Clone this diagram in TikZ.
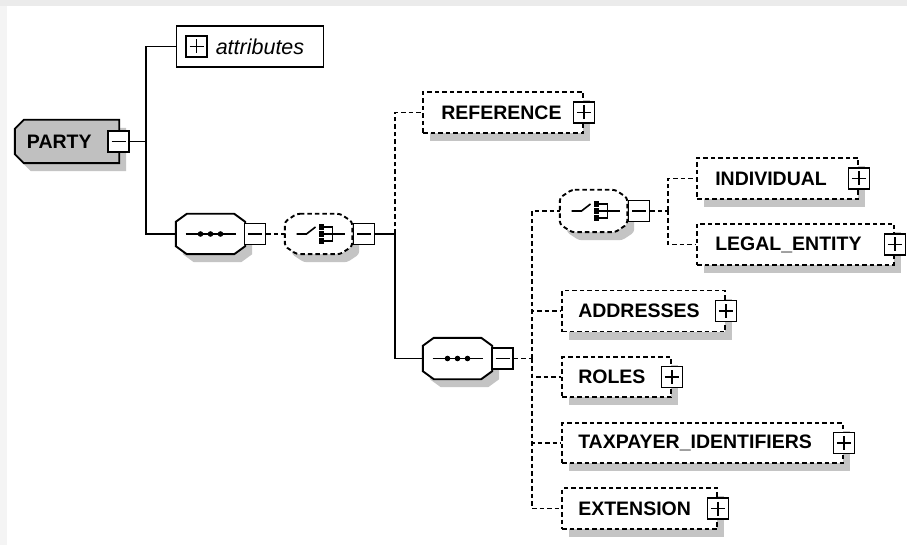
\documentclass[tikz,border=0pt]{standalone}
\usepackage{fontspec}
\setmainfont{Liberation Sans}
\usetikzlibrary{shadows}
\definecolor{shadecol}{RGB}{196,196,196}
\definecolor{topstrip}{RGB}{235,235,235}
\definecolor{leftstrip}{RGB}{244,244,244}
\definecolor{partyfill}{RGB}{192,192,192}
\tikzset{
  lw/.style={line width=1.9pt},
  conn/.style={lw, black},
  dashpat/.style={dash pattern=on 4.5pt off 3pt},
  dconn/.style={conn, dashpat},
  shad/.style={drop shadow={shadow xshift=7pt, shadow yshift=-8pt, fill=shadecol, opacity=1}},
  lab/.style={font=\fontsize{19.5}{21}\selectfont\bfseries, inner sep=0pt, anchor=west, text=black},
  elembox/.style={rectangle, draw, lw, dashpat, fill=white, shad,
     inner sep=0pt, minimum width=#1, minimum height=41pt},
  anchorbox/.style={rectangle, draw=none, inner sep=0pt, minimum width=#1, minimum height=40pt},
  pmbox/.style={rectangle, draw, lw, fill=white, inner sep=0pt, minimum width=21pt, minimum height=21pt},
  minusbox/.style={pmbox, path picture={
     \draw[line width=1.6pt] ([xshift=3.5pt]path picture bounding box.west) -- ([xshift=-3.5pt]path picture bounding box.east);}},
  plusbox/.style={pmbox, path picture={
     \draw[line width=1.6pt] ([xshift=3.5pt]path picture bounding box.west) -- ([xshift=-3.5pt]path picture bounding box.east);
     \draw[line width=1.6pt] ([yshift=-3.5pt]path picture bounding box.north) -- ([yshift=3.5pt]path picture bounding box.south);}},
  seqicon/.pic={
     \draw[line width=1.6pt] (-25,0) -- (25,0);
     \foreach \dx in {-10,0,10} \fill (\dx,0) circle (2.8pt);
  },
  choiceicon/.pic={
     \draw[line width=1.6pt] (-22,0) -- (-12,0) -- (-3,-7);
     \foreach \dy in {-7,0,7} \fill (0,\dy-2.6) rectangle (5.5,\dy+2.6);
     \draw[line width=1.6pt] (5,-7) -- (14,-7) -- (14,7) -- (5,7);
     \draw[line width=1.6pt] (5,0) -- (26,0);
  }
}
% octagon outline around a named node: #1 node, #2 chamfer x, #3 chamfer y, #4 style
\newcommand\octoutline[4]{%
  \path[#4] ([xshift=#2]#1.north west) -- ([xshift=-#2]#1.north east) -- ([yshift=-#3]#1.north east)
    -- ([yshift=#3]#1.south east) -- ([xshift=-#2]#1.south east) -- ([xshift=#2]#1.south west)
    -- ([yshift=#3]#1.south west) -- ([yshift=-#3]#1.north west) -- cycle;}
\begin{document}
\begin{tikzpicture}[x=1pt,y=-1pt]
\useasboundingbox (0,0) rectangle (907,545);
\fill[white] (0,0) rectangle (907,545);
\fill[topstrip] (0,0) rectangle (907,6);
\fill[leftstrip] (0,6) rectangle (7,545);

% PARTY
\node[anchorbox=104pt, minimum height=43pt] (party) at (67,141.5) {};
\path[draw, lw, fill=partyfill, shad] ([xshift=9pt]party.north west) -- (party.north east) -- (party.south east)
   -- ([xshift=9pt]party.south west) -- ([yshift=9pt]party.south west) -- ([yshift=-9pt]party.north west) -- cycle;
\node[lab, xshift=12pt] (partytext) at (party.west) {PARTY};
\node[minusbox] (partym) at (118.5,141.5) {};

% attributes
\node[rectangle, draw, lw, fill=white, inner sep=0pt, minimum width=147pt, minimum height=41pt,
      label={[lab, font=\fontsize{21.5}{22}\selectfont\itshape, xshift=40pt]west:attributes}] (attr) at (250,46.5) {};
\node[plusbox] (attrp) at (196.5,46.5) {};

% sequence 1 and choice 1
\node[anchorbox=69pt] (seq1) at (210.5,234) {};
\octoutline{seq1}{11pt}{8pt}{draw, lw, fill=white, shad}
\pic at (seq1.center) {seqicon};
\node[minusbox] (seq1m) at (255,234) {};
\node[anchorbox=67pt] (ch1) at (318.5,234) {};
\octoutline{ch1}{12pt}{8pt}{draw, lw, dashpat, fill=white, shad, rounded corners=3pt}
\pic at (ch1.center) {choiceicon};
\node[minusbox] (ch1m) at (364,234) {};

% REFERENCE
\node[elembox=160pt, label={[lab, xshift=19pt]west:REFERENCE}] (ref) at (503,112.5) {};
\node[plusbox] (refp) at (ref.east) {};

% sequence 2
\node[anchorbox=69pt, minimum height=41pt] (seq2) at (457.5,358.5) {};
\octoutline{seq2}{11pt}{8pt}{draw, lw, fill=white, shad}
\pic at (seq2.center) {seqicon};
\node[minusbox] (seq2m) at (502.5,358.5) {};

% choice 2
\node[anchorbox=67pt, minimum height=42pt] (ch2) at (593.5,211) {};
\octoutline{ch2}{12pt}{8pt}{draw, lw, dashpat, fill=white, shad, rounded corners=3pt}
\pic at (ch2.center) {choiceicon};
\node[minusbox] (ch2m) at (639,211) {};

% elements
\node[elembox=161pt, label={[lab, xshift=19pt]west:INDIVIDUAL}] (indiv) at (777.5,178.5) {};
\node[plusbox] (indivp) at (indiv.east) {};
\node[elembox=197pt, label={[lab, xshift=19pt]west:LEGAL\_ENTITY}] (legal) at (795.5,244.5) {};
\node[plusbox] (legalp) at (legal.east) {};
\node[elembox=163pt, label={[lab, xshift=17pt]west:ADDRESSES}] (addr) at (643.5,311) {};
\node[plusbox] (addrp) at (addr.east) {};
\node[elembox=109pt, minimum height=40pt, label={[lab, xshift=17pt]west:ROLES}] (roles) at (616.5,377) {};
\node[plusbox] (rolesp) at (roles.east) {};
\node[elembox=281pt, minimum height=40pt, label={[lab, xshift=17pt]west:TAXPAYER\_IDENTIFIERS}] (tax) at (702.5,443) {};
\node[plusbox] (taxp) at (tax.east) {};
\node[elembox=155pt, label={[lab, xshift=17pt]west:EXTENSION}] (ext) at (639.5,508.5) {};
\node[plusbox] (extp) at (ext.east) {};

% junctions
\coordinate (j1) at (146,141.5);
\coordinate (j2) at (395,234);
\coordinate (j3) at (532,358.5);
\coordinate (j4) at (668,211);

% connectors
\draw[conn] (partym.east) -- (j1);
\draw[conn] (attr.west) -| (j1) |- (seq1.west);
\draw[dconn] (seq1m.east) -- (ch1.west);
\draw[conn] (ch1m.east) -- (j2) |- (seq2.west);
\draw[dconn] (j2) |- (ref.west);
\draw[dconn] (seq2m.east) -- (j3);
\draw[dconn] (j3) |- (ch2.west);
\draw[dconn] (j3) |- (addr.west);
\draw[dconn] (j3) |- (roles.west);
\draw[dconn] (j3) |- (tax.west);
\draw[dconn] (j3) |- (ext.west);
\draw[dconn] (ch2m.east) -- (j4);
\draw[dconn] (j4) |- (indiv.west);
\draw[dconn] (j4) |- (legal.west);
\end{tikzpicture}
\end{document}
